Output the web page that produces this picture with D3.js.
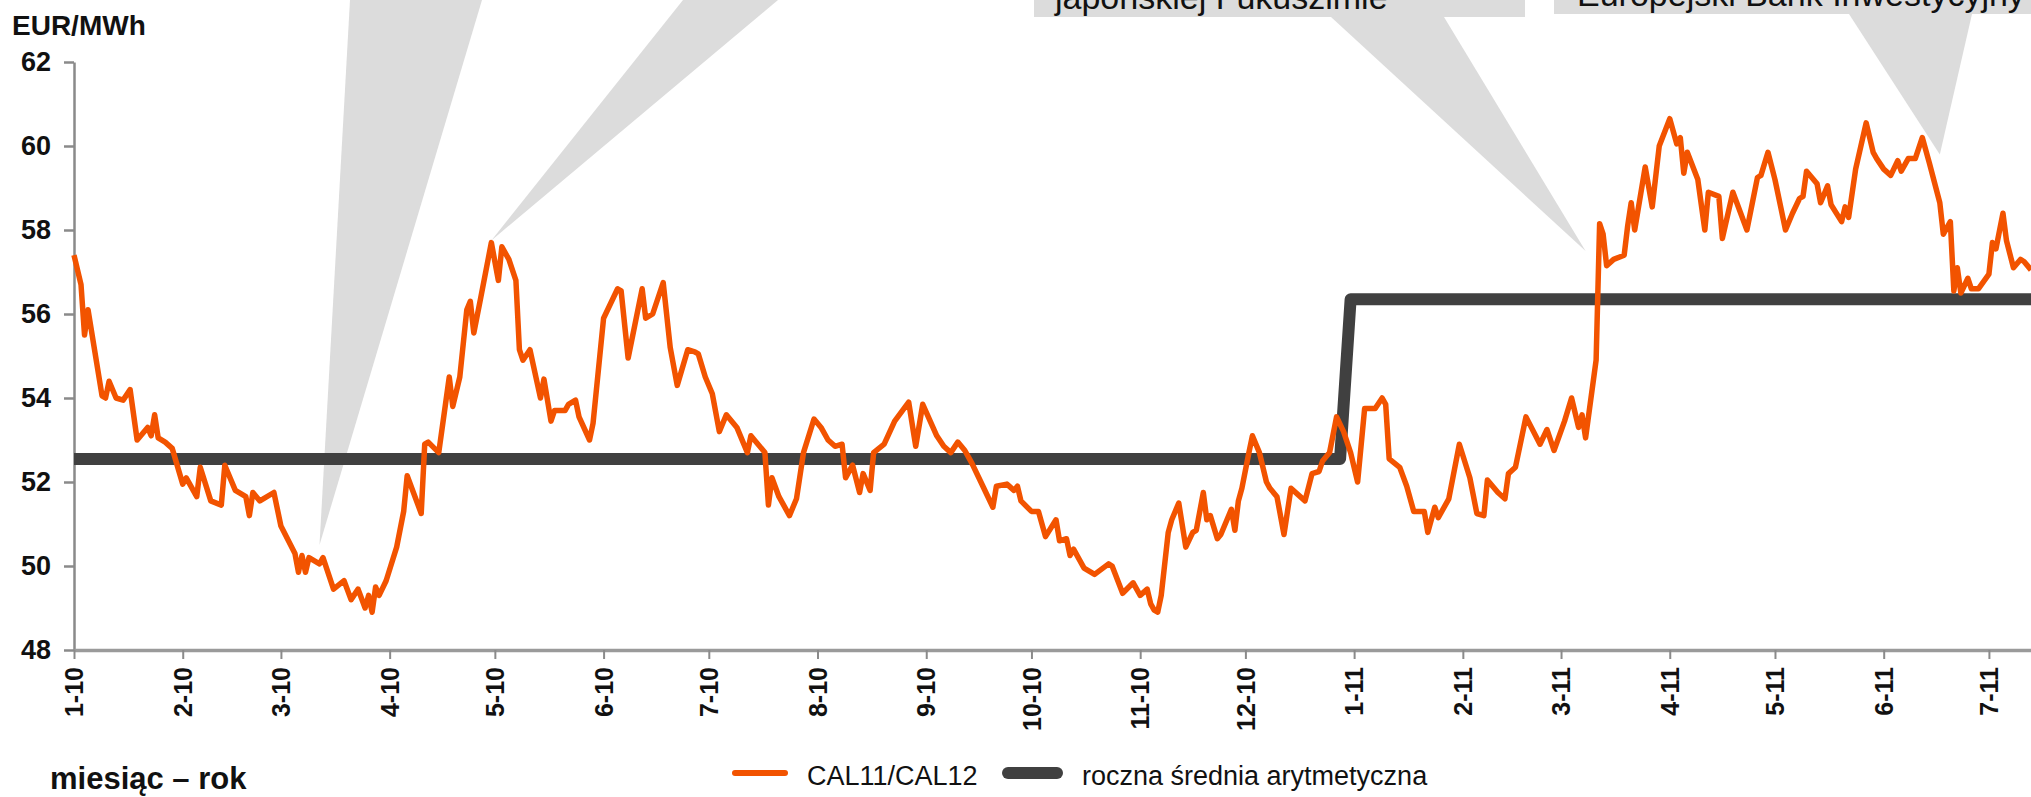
<!DOCTYPE html>
<html>
<head>
<meta charset="utf-8">
<title>CAL11/CAL12</title>
<script src="https://d3js.org/d3.v7.min.js"></script>
<style>
  body { margin: 0; background: #fff; }
  svg { display: block; font-family: "Liberation Sans", Arial, sans-serif; }
</style>
</head>
<body>
<script>
var w = 2031, h = 797;

// notowania CAL11/CAL12, dni (MM-DD) i ceny w EUR/MWh
var days2010 = ["01-01","01-03","01-04","01-05","01-09","01-10","01-11","01-13","01-15","01-17","01-19","01-22","01-23","01-24","01-25","01-27","01-29",
  "02-01","02-02","02-05","02-06","02-09","02-12","02-13","02-16","02-19","02-20","02-21","02-23","02-27",
  "03-01","03-05","03-06","03-07","03-08","03-09","03-12","03-13","03-16","03-19","03-21","03-23","03-25","03-26","03-27","03-28","03-29","03-31",
  "04-03","04-05","04-06","04-10","04-11","04-12","04-15","04-18","04-19","04-21","04-23","04-24","04-25","04-27","04-30",
  "05-02","05-03","05-05","05-07","05-08","05-09","05-11","05-14","05-15","05-17","05-18","05-21","05-22","05-24","05-25","05-28","05-29",
  "06-01","06-05","06-06","06-08","06-12","06-13","06-15","06-18","06-20","06-22","06-25","06-27","06-28","06-30",
  "07-02","07-04","07-06","07-09","07-12","07-13","07-17","07-18","07-19","07-21","07-24","07-26","07-28","07-31",
  "08-02","08-04","08-06","08-08","08-09","08-11","08-13","08-14","08-16","08-17","08-20","08-23","08-27","08-29","08-31",
  "09-04","09-06","09-08","09-10","09-12","09-14","09-16","09-18","09-20","09-21","09-24","09-26","09-27","09-28",
  "10-01","10-03","10-05","10-08","10-09","10-11","10-12","10-13","10-16","10-19","10-23","10-24","10-27","10-30",
  "11-01","11-03","11-04","11-05","11-06","11-07","11-09","11-10","11-12","11-14","11-16","11-17","11-19","11-20","11-21","11-23","11-24","11-27","11-28","11-29","11-30",
  "12-02","12-03","12-05","12-07","12-08","12-10","12-12","12-14","12-16","12-18","12-20","12-22","12-23","12-25","12-27","12-29","12-31"];
var prices2010 = [57.4,56.7,55.5,56.1,54.05,54.0,54.4,54.0,53.95,54.2,53.0,53.3,53.1,53.6,53.05,52.95,52.8,
  51.95,52.1,51.65,52.35,51.55,51.45,52.4,51.8,51.65,51.2,51.75,51.55,51.75,
  50.95,50.3,49.85,50.25,49.85,50.2,50.05,50.2,49.45,49.65,49.2,49.45,49.0,49.3,48.9,49.5,49.3,49.65,
  50.45,51.3,52.15,51.25,52.9,52.95,52.7,54.5,53.8,54.5,56.1,56.3,55.55,56.4,57.7,
  56.8,57.6,57.3,56.8,55.15,54.9,55.15,54.0,54.45,53.45,53.7,53.7,53.85,53.95,53.55,53.0,53.4,
  55.9,56.6,56.55,54.95,56.6,55.9,56.0,56.75,55.2,54.3,55.15,55.1,55.05,54.5,
  54.1,53.2,53.6,53.3,52.7,53.1,52.7,51.45,52.1,51.65,51.2,51.6,52.7,53.5,
  53.3,53.0,52.85,52.9,52.1,52.4,51.75,52.2,51.8,52.7,52.9,53.45,53.9,52.85,53.85,
  53.1,52.85,52.7,52.95,52.75,52.45,52.1,51.75,51.4,51.9,51.95,51.8,51.9,51.55,
  51.3,51.3,50.7,51.1,50.6,50.65,50.25,50.4,49.95,49.8,50.05,50.0,49.35,49.6,
  49.3,49.45,49.1,48.95,48.9,49.3,50.8,51.1,51.5,50.45,50.8,50.85,51.75,51.1,51.2,50.65,50.75,51.35,50.85,51.55,51.85,
  52.7,53.1,52.7,52.0,51.85,51.65,50.75,51.85,51.7,51.55,52.2,52.25,52.5,52.7,53.55,53.2,52.7];

var days2011 = ["01-02","01-04","01-07","01-09","01-10","01-11","01-14","01-16","01-18","01-21","01-22","01-24","01-25","01-28","01-31",
  "02-03","02-05","02-07","02-08","02-11","02-13","02-14","02-16","02-19","02-23","02-25","02-27",
  "03-02","03-04","03-06","03-07","03-08","03-11","03-12","03-13","03-14","03-16","03-19","03-20","03-21","03-22","03-25","03-27","03-29",
  "04-01","04-03","04-04","04-05","04-06","04-09","04-11","04-12","04-15","04-16","04-19","04-23","04-26","04-27","04-29",
  "05-01","05-04","05-06","05-08","05-09","05-10","05-13","05-14","05-16","05-17","05-20","05-21","05-22","05-24","05-27","05-29","05-30",
  "06-01","06-03","06-05","06-06","06-08","06-10","06-12","06-14","06-17","06-18","06-20","06-21","06-22","06-23","06-25","06-26","06-28",
  "07-01","07-02","07-03","07-05","07-06","07-08","07-10","07-11","07-13"];
var prices2011 = [52.0,53.75,53.75,54.0,53.85,52.55,52.35,51.9,51.3,51.3,50.8,51.4,51.15,51.6,52.9,
  52.1,51.25,51.2,52.05,51.75,51.6,52.2,52.35,53.55,52.9,53.25,52.75,
  53.45,54.0,53.3,53.6,53.05,54.9,58.15,57.9,57.15,57.3,57.4,58.1,58.65,58.0,59.5,58.55,60.0,
  60.65,60.05,60.2,59.35,59.85,59.2,58.0,58.9,58.8,57.8,58.9,58.0,59.25,59.3,59.85,
  59.2,58.0,58.4,58.75,58.8,59.4,59.1,58.65,59.05,58.6,58.2,58.55,58.3,59.45,60.55,59.85,59.7,
  59.45,59.3,59.65,59.4,59.7,59.7,60.2,59.6,58.65,57.9,58.2,56.55,57.1,56.5,56.85,56.6,56.6,
  56.95,57.7,57.55,58.4,57.75,57.1,57.3,57.25,57.05];

// roczna średnia arytmetyczna
var avgDates = ["2010-01-01", "2010-12-28", "2010-12-31", "2011-07-13"];
var avgValues = [52.55, 52.55, 56.35, 56.35];

var yTicks = [48, 50, 52, 54, 56, 58, 60, 62];
var monthTicks = ["2010-01-01","2010-02-01","2010-03-01","2010-04-01","2010-05-01","2010-06-01","2010-07-01","2010-08-01","2010-09-01",
  "2010-10-01","2010-11-01","2010-12-01","2011-01-01","2011-02-01","2011-03-01","2011-04-01","2011-05-01","2011-06-01","2011-07-01"];
var legendLabels = ["CAL11/CAL12", "roczna średnia arytmetyczna"];

// dymki z komentarzami (widoczna tylko dolna linia tekstu)
var calloutTexts = ["", "", "japońskiej Fukuszimie", "Europejski Bank Inwestycyjny"];
var calloutDates = ["2010-03-12", "2010-04-30", "2011-03-08", "2011-06-17"];
var calloutValues = [50.5, 57.75, 57.5, 59.8];

var parse = d3.timeParse("%Y-%m-%d");
var orange = "#f25300", dark = "#404040", bubble = "#dcdcdc";

var series = days2010.map(function(d, i) { return {date: parse("2010-" + d), value: prices2010[i]}; })
  .concat(days2011.map(function(d, i) { return {date: parse("2011-" + d), value: prices2011[i]}; }));
var avgSeries = avgDates.map(function(d, i) { return {date: parse(d), value: avgValues[i]}; });

var x = d3.scaleTime().domain([parse("2010-01-01"), parse("2011-07-13")]).range([74, 2031]);
var y = d3.scaleLinear().domain([48, 62]).range([650, 62]);

var svg = d3.select("body").append("svg").attr("width", w).attr("height", h);

// dymki (pod liniami)
var calloutBase = [
  {left: 350, right: 482, top: 0, box: null},
  {left: 683, right: 778, top: 0, box: null},
  {left: 1331, right: 1444, top: 17, box: [1034, 1525], tx: 1055, ty: 9},
  {left: 1849, right: 1972, top: 14, box: [1554, 2100], tx: 1577, ty: 6}
];
var cg = svg.append("g");
calloutBase.forEach(function(b, i) {
  var tipX = x(parse(calloutDates[i])), tipY = y(calloutValues[i]);
  cg.append("polygon")
    .attr("points", [[b.left, b.top], [b.right, b.top], [tipX, tipY]].join(" "))
    .attr("fill", bubble);
  if (b.box) {
    cg.append("rect").attr("x", b.box[0]).attr("y", -80)
      .attr("width", b.box[1] - b.box[0]).attr("height", 80 + b.top)
      .attr("fill", bubble);
    cg.append("text").attr("x", b.tx).attr("y", b.ty)
      .attr("font-size", 34).attr("fill", "#111")
      .text(calloutTexts[i]);
  }
});

// oś Y
var yAxis = svg.append("g").attr("transform", "translate(74,0)")
  .call(d3.axisLeft(y).tickValues(yTicks).tickSize(10).tickSizeOuter(0).tickPadding(13));
yAxis.select(".domain").attr("stroke", "#8a8a8a").attr("stroke-width", 2.5);
yAxis.selectAll(".tick line").attr("stroke", "#8a8a8a").attr("stroke-width", 2.5);
yAxis.selectAll(".tick text").attr("font-size", 27).attr("font-weight", "bold")
  .attr("font-family", "Liberation Sans, Arial, sans-serif").attr("fill", "#111");

// oś X
var xAxis = svg.append("g").attr("transform", "translate(0,650)")
  .call(d3.axisBottom(x).tickValues(monthTicks.map(parse)).tickSize(9).tickSizeOuter(0)
    .tickFormat(d3.timeFormat("%-m-%y")));
xAxis.select(".domain").attr("stroke", "#9a9a9a").attr("stroke-width", 3.5);
xAxis.selectAll(".tick line").attr("stroke", "#8a8a8a").attr("stroke-width", 2);
xAxis.selectAll(".tick text")
  .attr("transform", "rotate(-90)")
  .attr("text-anchor", "end")
  .attr("x", -17).attr("y", 0).attr("dy", "0.35em")
  .attr("font-size", 25).attr("font-weight", "bold")
  .attr("font-family", "Liberation Sans, Arial, sans-serif").attr("fill", "#111");

var line = d3.line().x(function(d) { return x(d.date); }).y(function(d) { return y(d.value); });

svg.append("path").datum(avgSeries).attr("d", line)
  .attr("fill", "none").attr("stroke", dark).attr("stroke-width", 12).attr("stroke-linejoin", "round");

svg.append("path").datum(series).attr("d", line)
  .attr("fill", "none").attr("stroke", orange).attr("stroke-width", 5.5).attr("stroke-linejoin", "round");

// opisy
svg.append("text").attr("x", 12).attr("y", 35).attr("font-size", 28).attr("font-weight", "bold")
  .attr("fill", "#111").text("EUR/MWh");
svg.append("text").attr("x", 50).attr("y", 789).attr("font-size", 31).attr("font-weight", "bold")
  .attr("fill", "#111").text("miesiąc – rok");

// legenda
var legend = [
  {x1: 735, x2: 785, color: orange, width: 6, tx: 807},
  {x1: 1008, x2: 1057, color: dark, width: 12, tx: 1082}
];
legend.forEach(function(l, i) {
  svg.append("line").attr("x1", l.x1).attr("x2", l.x2).attr("y1", 773).attr("y2", 773)
    .attr("stroke", l.color).attr("stroke-width", l.width).attr("stroke-linecap", "round");
  svg.append("text").attr("x", l.tx).attr("y", 785).attr("font-size", 27).attr("fill", "#111")
    .text(legendLabels[i]);
});
</script>
</body>
</html>
